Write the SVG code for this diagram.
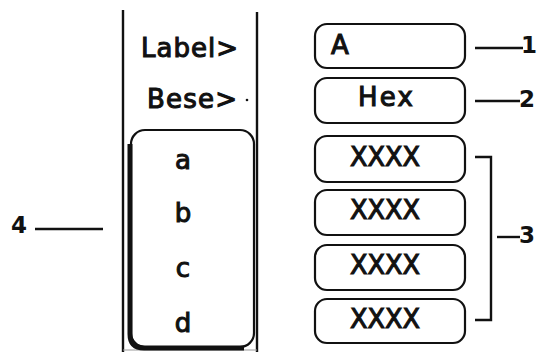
<svg xmlns="http://www.w3.org/2000/svg" width="538" height="352" viewBox="0 0 538 352">
<style>
.t{font-family:"DejaVu Sans","Liberation Sans",sans-serif;font-size:26px;fill:#111;stroke:#111;stroke-width:1.1}
.n{font-family:"DejaVu Sans","Liberation Sans",sans-serif;font-weight:bold;font-size:23px;fill:#111}
.box{fill:#fff;stroke:#111;stroke-width:2.2}
.ln{stroke:#111;stroke-width:2.4;fill:none}
</style>
<rect width="538" height="352" fill="#fff"/>
<g id="panel">
<line class="ln" x1="123" y1="10" x2="123" y2="352"/>
<line class="ln" x1="257" y1="12" x2="257" y2="352"/>
<line x1="123" y1="350" x2="257" y2="350" stroke="#999" stroke-width="1"/>
<text class="t" x="141" y="57" textLength="97" lengthAdjust="spacing">Label&gt;</text>
<text class="t" x="147" y="108" textLength="90" lengthAdjust="spacing">Bese&gt;</text>
<circle cx="247" cy="100" r="1.3" fill="#111"/>
</g>
<g id="list">
<rect class="box" x="131" y="130" width="123" height="217" rx="14"/>
<path d="M130 144 L130 334 Q130 348 144 348 L244 348" fill="none" stroke="#111" stroke-width="5"/>
<text class="t" x="183" y="169" text-anchor="middle">a</text>
<text class="t" x="183" y="222" text-anchor="middle">b</text>
<text class="t" x="183" y="277" text-anchor="middle">c</text>
<text class="t" x="183" y="332" text-anchor="middle">d</text>
</g>
<g id="boxA"><rect class="box" x="315" y="24" width="150" height="44" rx="12"/><text class="t" x="331" y="54">A</text></g>
<g id="boxHex"><rect class="box" x="315" y="78" width="150" height="45" rx="12"/><text class="t" x="358" y="106" textLength="55" lengthAdjust="spacing">Hex</text></g>
<g id="boxX1"><rect class="box" x="315" y="136" width="150" height="46" rx="12"/><text class="t" x="350" y="166" textLength="70" lengthAdjust="spacingAndGlyphs">XXXX</text></g>
<g id="boxX2"><rect class="box" x="315" y="190" width="150" height="45" rx="12"/><text class="t" x="350" y="219" textLength="70" lengthAdjust="spacingAndGlyphs">XXXX</text></g>
<g id="boxX3"><rect class="box" x="315" y="245" width="150" height="45" rx="12"/><text class="t" x="350" y="274" textLength="70" lengthAdjust="spacingAndGlyphs">XXXX</text></g>
<g id="boxX4"><rect class="box" x="315" y="299" width="150" height="44" rx="12"/><text class="t" x="350" y="328" textLength="70" lengthAdjust="spacingAndGlyphs">XXXX</text></g>
<g id="connectors">
<line class="ln" x1="475" y1="48" x2="523" y2="48"/>
<line class="ln" x1="475" y1="101" x2="520" y2="101"/>
<path class="ln" d="M475 157 H491 V320 H475"/>
<line class="ln" x1="497" y1="237" x2="520" y2="237"/>
<line class="ln" x1="35" y1="229" x2="103" y2="229"/>
</g>
<g id="labels">
<text class="n" x="521" y="53">1</text>
<text class="n" x="519" y="107">2</text>
<text class="n" x="519" y="243">3</text>
<text class="n" x="11" y="233">4</text>
</g>
</svg>
